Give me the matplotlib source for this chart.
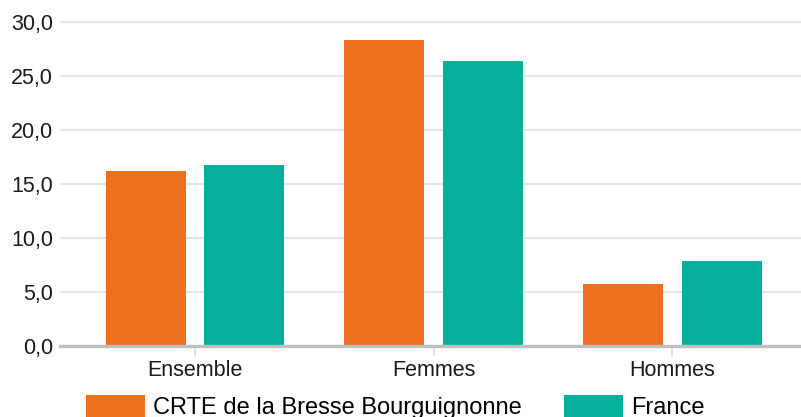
import numpy as np
from matplotlib import pyplot as plt

categories = ['Ensemble', 'Femmes', 'Hommes']
crte = [16.2, 28.3, 5.7]
france = [16.8, 26.4, 7.9]
series_names = ['CRTE de la Bresse Bourguignonne', 'France']
yticks = [0, 5, 10, 15, 20, 25, 30]

plt.rcParams['font.family'] = ['Liberation Sans', 'DejaVu Sans']

fig = plt.figure(figsize=(8.01, 4.17), dpi=100)
ax = fig.add_axes([60 / 801, 71 / 417, 741 / 801, 334 / 417])

x = np.arange(len(categories))
w = 0.335
ax.bar(x - 0.207, crte, w, color='#ed701f', label=series_names[0], zorder=2)
ax.bar(x + 0.207, france, w, color='#06b09c', label=series_names[1], zorder=2)

ax.set_xlim(-0.566, 2.54)
ax.set_ylim(0, 30.93)
ax.set_yticks(yticks)
ax.set_yticklabels([('%.1f' % v).replace('.', ',') for v in yticks])
ax.set_xticks(x)
ax.set_xticklabels(categories)

ax.grid(axis='y', color='#e6e6e6', linewidth=1.6, zorder=0)
ax.set_axisbelow(True)
for s in ['top', 'right', 'left']:
    ax.spines[s].set_visible(False)
ax.spines['bottom'].set_color('#bfbfbf')
ax.spines['bottom'].set_linewidth(2.4)
ax.spines['bottom'].set_zorder(3)

ax.tick_params(axis='y', length=0, pad=5, labelsize=15.5, labelcolor='#1a1a1a')
ax.tick_params(axis='x', length=7, width=1.2, color='#d9d9d9', pad=3,
               labelsize=15.5, labelcolor='#1a1a1a')

fig.legend(loc='center left', bbox_to_anchor=(86 / 801, 10 / 417), ncol=2,
           frameon=False, fontsize=17, handlelength=2.5, handleheight=1.05,
           handletextpad=0.34, columnspacing=1.77, borderpad=0, borderaxespad=0)

fig.savefig('out.png', dpi=100)
